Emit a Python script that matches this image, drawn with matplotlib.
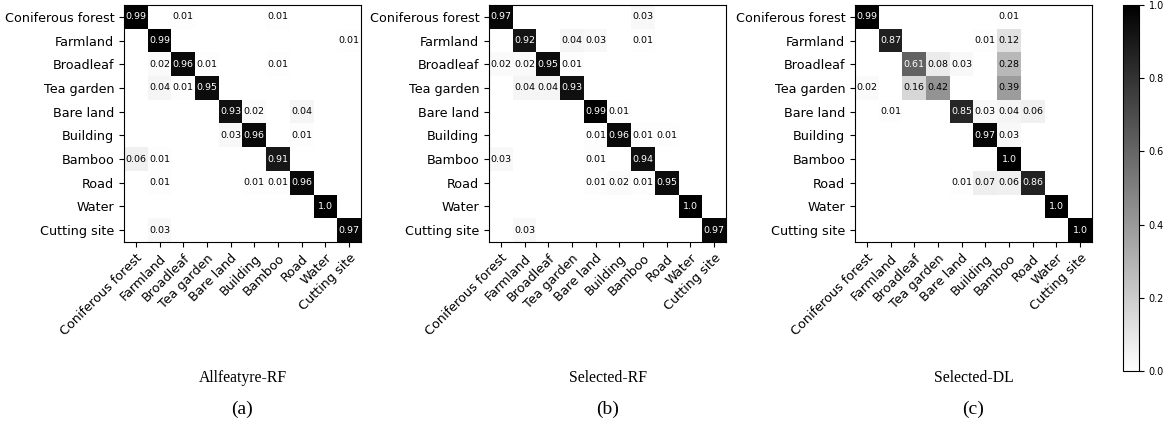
import numpy as np
import matplotlib
matplotlib.use("Agg")
import matplotlib.pyplot as plt

# class names, rows = true class, columns = predicted class
classes = ["Coniferous forest", "Farmland", "Broadleaf", "Tea garden", "Bare land",
           "Building", "Bamboo", "Road", "Water", "Cutting site"]

cm_allfeature_rf = [
    [0.99, 0, 0.01, 0, 0, 0, 0.01, 0, 0, 0],
    [0, 0.99, 0, 0, 0, 0, 0, 0, 0, 0.01],
    [0, 0.02, 0.96, 0.01, 0, 0, 0.01, 0, 0, 0],
    [0, 0.04, 0.01, 0.95, 0, 0, 0, 0, 0, 0],
    [0, 0, 0, 0, 0.93, 0.02, 0, 0.04, 0, 0],
    [0, 0, 0, 0, 0.03, 0.96, 0, 0.01, 0, 0],
    [0.06, 0.01, 0, 0, 0, 0, 0.91, 0, 0, 0],
    [0, 0.01, 0, 0, 0, 0.01, 0.01, 0.96, 0, 0],
    [0, 0, 0, 0, 0, 0, 0, 0, 1.0, 0],
    [0, 0.03, 0, 0, 0, 0, 0, 0, 0, 0.97],
]

cm_selected_rf = [
    [0.97, 0, 0, 0, 0, 0, 0.03, 0, 0, 0],
    [0, 0.92, 0, 0.04, 0.03, 0, 0.01, 0, 0, 0],
    [0.02, 0.02, 0.95, 0.01, 0, 0, 0, 0, 0, 0],
    [0, 0.04, 0.04, 0.93, 0, 0, 0, 0, 0, 0],
    [0, 0, 0, 0, 0.99, 0.01, 0, 0, 0, 0],
    [0, 0, 0, 0, 0.01, 0.96, 0.01, 0.01, 0, 0],
    [0.03, 0, 0, 0, 0.01, 0, 0.94, 0, 0, 0],
    [0, 0, 0, 0, 0.01, 0.02, 0.01, 0.95, 0, 0],
    [0, 0, 0, 0, 0, 0, 0, 0, 1.0, 0],
    [0, 0.03, 0, 0, 0, 0, 0, 0, 0, 0.97],
]

cm_selected_dl = [
    [0.99, 0, 0, 0, 0, 0, 0.01, 0, 0, 0],
    [0, 0.87, 0, 0, 0, 0.01, 0.12, 0, 0, 0],
    [0, 0, 0.61, 0.08, 0.03, 0, 0.28, 0, 0, 0],
    [0.02, 0, 0.16, 0.42, 0, 0, 0.39, 0, 0, 0],
    [0, 0.01, 0, 0, 0.85, 0.03, 0.04, 0.06, 0, 0],
    [0, 0, 0, 0, 0, 0.97, 0.03, 0, 0, 0],
    [0, 0, 0, 0, 0, 0, 1.0, 0, 0, 0],
    [0, 0, 0, 0, 0.01, 0.07, 0.06, 0.86, 0, 0],
    [0, 0, 0, 0, 0, 0, 0, 0, 1.0, 0],
    [0, 0, 0, 0, 0, 0, 0, 0, 0, 1.0],
]

titles = ["Allfeatyre-RF", "Selected-RF", "Selected-DL"]
letters = ["(a)", "(b)", "(c)"]
matrices = [cm_allfeature_rf, cm_selected_rf, cm_selected_dl]

W, H = 1163, 423
fig = plt.figure(figsize=(W / 100, H / 100), dpi=100)

# left edges of the three matrices in pixels
lefts = [124, 489, 855]
size = 237
top = 5

for left, cm, title, letter in zip(lefts, matrices, titles, letters):
    ax = fig.add_axes([left / W, (H - top - size) / H, size / W, size / H])
    cm = np.array(cm)
    im = ax.imshow(cm, cmap="gray_r", vmin=0, vmax=1, interpolation="nearest")
    for i in range(cm.shape[0]):
        for j in range(cm.shape[1]):
            v = cm[i, j]
            if v > 0:
                ax.text(j, i, str(round(v, 2)), ha="center", va="center", fontsize=6.8,
                        color="white" if v > 0.5 else "black")
    ax.set_xticks(range(len(classes)))
    ax.set_yticks(range(len(classes)))
    ax.set_xticklabels(classes, rotation=45, ha="right", rotation_mode="anchor", fontsize=9.2)
    ax.set_yticklabels(classes, fontsize=9.2)
    cx = (left + size / 2) / W
    fig.text(cx, 1 - 378 / H, title, ha="center", va="center",
             family="Liberation Serif", fontsize=11.3)
    fig.text(cx, 1 - 409 / H, letter, ha="center", va="center",
             family="Liberation Serif", fontsize=14)

cax = fig.add_axes([1123 / W, (H - 371) / H, 16 / W, 366 / H])
cb = fig.colorbar(im, cax=cax)
cb.set_ticks([0.0, 0.2, 0.4, 0.6, 0.8, 1.0])
cb.ax.tick_params(labelsize=7)

fig.savefig("out.png", dpi=100)
